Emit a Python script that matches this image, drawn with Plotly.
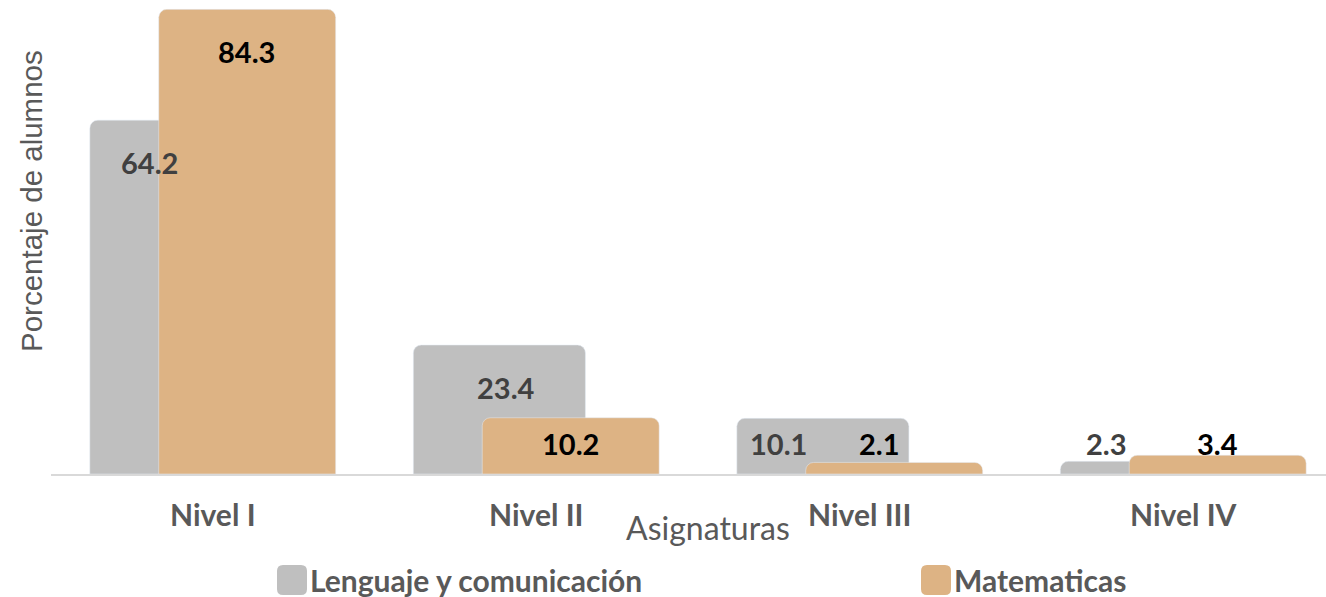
import plotly.graph_objects as go

# Datos
niveles = ["Nivel I", "Nivel II", "Nivel III", "Nivel IV"]
lenguaje = [64.2, 23.4, 10.1, 2.3]
matematicas = [84.3, 10.2, 2.1, 3.4]
series_names = ["Lenguaje y comunicación", "Matematicas"]

GRIS = "#BFBFBF"
TAN = "#DDB384"
TXT = "#595959"
FONT = "Lato"

W, H = 1326, 597
ML, MB = 51, 123          # plot area: x 51..1326, y 0..474
PLOT_W, PLOT_H = W - ML, H - MB
CAT_PX = 323.5            # ancho de cada categoria en px
Y_MAX = 86
PX_PER_UNIT = PLOT_H / Y_MAX

fig = go.Figure()
fig.add_trace(go.Bar(x=niveles, y=lenguaje, name=series_names[0], marker_color=GRIS,
                     width=0.532, offset=-0.38, showlegend=False))
fig.add_trace(go.Bar(x=niveles, y=matematicas, name=series_names[1], marker_color=TAN,
                     width=0.547, offset=-0.167, showlegend=False))

# etiquetas de datos (desplazamiento horizontal en px respecto al centro de la categoria)
gris_dx = [-63, -30, -81, -77]
tan_dx = [34, 34, 20, 34]


def label_y(v):
    # dentro de la barra si es alta, si no en una fila fija sobre la base
    return max(v - 42 / PX_PER_UNIT, 31 / PX_PER_UNIT)


for i, cat in enumerate(niveles):
    fig.add_annotation(x=cat, y=label_y(lenguaje[i]), xref="x", yref="y", xshift=gris_dx[i],
                       text=f"{lenguaje[i]:.1f}", showarrow=False,
                       font=dict(family=FONT, size=29, color="#404040", weight="bold"))
    fig.add_annotation(x=cat, y=label_y(matematicas[i]), xref="x", yref="y", xshift=tan_dx[i],
                       text=f"{matematicas[i]:.1f}", showarrow=False,
                       font=dict(family=FONT, size=29, color="#000000", weight="bold"))


def px_x(x):
    return (x - ML) / PLOT_W


def px_y(y):
    return (PLOT_H - y) / PLOT_H


# titulos de ejes
fig.add_annotation(text="Porcentaje de alumnos", textangle=-90, xref="paper", yref="paper",
                   x=px_x(31), y=px_y(201), xanchor="center", yanchor="middle", showarrow=False,
                   font=dict(family="Liberation Sans", size=29.5, color=TXT))
fig.add_annotation(text="Asignaturas", xref="paper", yref="paper",
                   x=px_x(708), y=px_y(527), xanchor="center", yanchor="middle", showarrow=False,
                   font=dict(family=FONT, size=32, color=TXT))

# leyenda manual (cuadros redondeados)
def rounded_square(x0, y0, size, r):
    x1, y1 = x0 + size, y0 + size
    pts = [
        f"M{px_x(x0 + r)},{px_y(y0)}",
        f"L{px_x(x1 - r)},{px_y(y0)}",
        f"Q{px_x(x1)},{px_y(y0)} {px_x(x1)},{px_y(y0 + r)}",
        f"L{px_x(x1)},{px_y(y1 - r)}",
        f"Q{px_x(x1)},{px_y(y1)} {px_x(x1 - r)},{px_y(y1)}",
        f"L{px_x(x0 + r)},{px_y(y1)}",
        f"Q{px_x(x0)},{px_y(y1)} {px_x(x0)},{px_y(y1 - r)}",
        f"L{px_x(x0)},{px_y(y0 + r)}",
        f"Q{px_x(x0)},{px_y(y0)} {px_x(x0 + r)},{px_y(y0)}",
        "Z",
    ]
    return " ".join(pts)


legend_x = [277, 921]
for lx, name, col in zip(legend_x, series_names, [GRIS, TAN]):
    fig.add_shape(type="path", path=rounded_square(lx, 565, 30, 6), xref="paper", yref="paper",
                  fillcolor=col, line_width=0, layer="above")
    fig.add_annotation(text=name, xref="paper", yref="paper", x=px_x(lx + 31), y=px_y(580),
                       xanchor="left", yanchor="middle", showarrow=False,
                       font=dict(family=FONT, size=30, color=TXT, weight="bold"))

fig.update_layout(
    width=W, height=H,
    margin=dict(l=ML, r=0, t=0, b=MB),
    plot_bgcolor="white", paper_bgcolor="white",
    barmode="overlay", barcornerradius=8,
    showlegend=False,
)
fig.update_xaxes(range=[-0.5, -0.5 + PLOT_W / CAT_PX],
                 showline=True, linecolor="#D9D9D9", linewidth=2, showgrid=False, ticks="",
                 ticklabelstandoff=14, tickfont=dict(family=FONT, size=30, color=TXT, weight="bold"))
fig.update_yaxes(range=[0, Y_MAX], visible=False, showgrid=False)

fig.write_html("out.html", config={"displayModeBar": False},
               post_script="document.body.style.margin='0';")
